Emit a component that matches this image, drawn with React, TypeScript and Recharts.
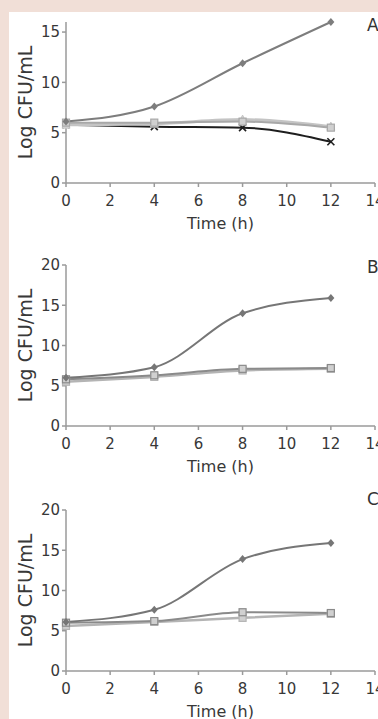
import React from 'react';
import { LineChart, Line, XAxis, YAxis } from 'recharts';

// sampling times (h) and axis ticks
const TIME = [0, 4, 8, 12];
const X_TICKS = [0, 2, 4, 6, 8, 10, 12, 14];
const Y_TICKS_A = [0, 5, 10, 15];
const Y_TICKS_BC = [0, 5, 10, 15, 20];

// panel A (Log CFU/mL)
const A_DIAMOND = [6.1, 7.6, 11.9, 16.0];
const A_SQUARE = [6.0, 6.0, 6.1, 5.5];
const A_TRIANGLE = [5.8, 5.9, 6.3, 5.6];
const A_CROSS = [5.8, 5.6, 5.5, 4.1];

// panel B
const B_DIAMOND = [6.0, 7.3, 14.0, 15.9];
const B_SQUARE = [5.8, 6.3, 7.1, 7.2];
const B_TRIANGLE = [5.5, 6.1, 6.9, 7.1];

// panel C
const C_DIAMOND = [6.1, 7.6, 13.9, 15.9];
const C_SQUARE = [6.0, 6.2, 7.3, 7.2];
const C_TRIANGLE = [5.6, 6.1, 6.6, 7.1];

const FONT = '"DejaVu Sans", Arial, sans-serif';
const AXIS = '#9a9a9a';
const TEXT = '#383838';

type Shape = 'diamond' | 'square' | 'triangle' | 'cross';

const Marker = ({ cx, cy, shape, color }: { cx?: number; cy?: number; shape: Shape; color: string }) => {
  if (cx == null || cy == null) return null;
  const s = 3.5;
  if (shape === 'diamond') {
    return <polygon points={`${cx},${cy - s - 0.5} ${cx + s},${cy} ${cx},${cy + s + 0.5} ${cx - s},${cy}`} fill={color} />;
  }
  if (shape === 'square') {
    return <rect x={cx - s} y={cy - s} width={2 * s} height={2 * s} fill="#d0d0d0" stroke={color} strokeWidth={1.2} />;
  }
  if (shape === 'triangle') {
    return <polygon points={`${cx},${cy - s - 1} ${cx + s + 0.5},${cy + s} ${cx - s - 0.5},${cy + s}`} fill="#d8d8d8" stroke={color} strokeWidth={1} />;
  }
  return (
    <g stroke={color} strokeWidth={1.6}>
      <line x1={cx - s} y1={cy - s} x2={cx + s} y2={cy + s} />
      <line x1={cx - s} y1={cy + s} x2={cx + s} y2={cy - s} />
    </g>
  );
};

const dotOf = (shape: Shape, color: string) => (p: any) => (
  <Marker key={`${shape}-${p.index}`} cx={p.cx} cy={p.cy} shape={shape} color={color} />
);

type Series = { key: string; values: number[]; shape: Shape; color: string; width: number };

const Panel = ({ top, letter, letterTop, series, yMax, yTicks }: { top: number; letter: string; letterTop: number; series: Series[]; yMax: number; yTicks: number[] }) => {
  const data = TIME.map((t, i) => {
    const row: Record<string, number> = { time: t };
    series.forEach((s) => (row[s.key] = s.values[i]));
    return row;
  });
  return (
    <div style={{ position: 'absolute', left: 0, top }}>
      <LineChart width={430} height={240} data={data} margin={{ top: 22, right: 55, left: 0, bottom: 0 }}>
        <XAxis
          dataKey="time"
          type="number"
          domain={[0, 14]}
          ticks={X_TICKS}
          interval={0}
          height={57}
          stroke={AXIS}
          strokeWidth={1.5}
          tickSize={4}
          tickMargin={8}
          tick={{ fill: TEXT, fontSize: 15, fontFamily: FONT }}
          label={{ value: 'Time (h)', position: 'insideBottom', offset: 11, fill: TEXT, fontSize: 16, fontFamily: FONT }}
        />
        <YAxis
          type="number"
          domain={[0, yMax]}
          ticks={yTicks}
          interval={0}
          width={66}
          stroke={AXIS}
          strokeWidth={1.5}
          tickSize={4}
          tickMargin={2}
          tick={{ fill: TEXT, fontSize: 15, fontFamily: FONT }}
          label={{
            value: 'Log CFU/mL',
            angle: -90,
            position: 'insideLeft',
            offset: 25,
            fill: TEXT,
            fontSize: 19,
            fontFamily: FONT,
            style: { textAnchor: 'middle' },
          }}
        />
        {series.map((s) => (
          <Line
            key={s.key}
            dataKey={s.key}
            type="monotone"
            stroke={s.color}
            strokeWidth={s.width}
            dot={dotOf(s.shape, s.color)}
            activeDot={false}
            isAnimationActive={false}
          />
        ))}
      </LineChart>
      <div style={{ position: 'absolute', left: 367, top: letterTop, fontFamily: FONT, fontSize: 17, color: '#333' }}>{letter}</div>
    </div>
  );
};

const App = () => (
  <div style={{ position: 'fixed', left: 0, top: 0, width: 378, height: 719, overflow: 'hidden', background: '#f1dfd7' }}>
    <div style={{ position: 'absolute', left: 9, top: 12, right: 0, bottom: 0, background: '#fff' }} />
    <Panel
      top={0}
      letter="A"
      letterTop={15}
      yMax={16}
      yTicks={Y_TICKS_A}
      series={[
        { key: 'cross', values: A_CROSS, shape: 'cross', color: '#1e1e1e', width: 2 },
        { key: 'triangle', values: A_TRIANGLE, shape: 'triangle', color: '#c4c4c4', width: 3 },
        { key: 'square', values: A_SQUARE, shape: 'square', color: '#a8a8a8', width: 2 },
        { key: 'diamond', values: A_DIAMOND, shape: 'diamond', color: '#7d7d7d', width: 2 },
      ]}
    />
    <Panel
      top={243}
      letter="B"
      letterTop={14}
      yMax={20}
      yTicks={Y_TICKS_BC}
      series={[
        { key: 'triangle', values: B_TRIANGLE, shape: 'square', color: '#b4b4b4', width: 2.5 },
        { key: 'square', values: B_SQUARE, shape: 'square', color: '#8a8a8a', width: 2 },
        { key: 'diamond', values: B_DIAMOND, shape: 'diamond', color: '#767676', width: 2 },
      ]}
    />
    <Panel
      top={488}
      letter="C"
      letterTop={1}
      yMax={20}
      yTicks={Y_TICKS_BC}
      series={[
        { key: 'triangle', values: C_TRIANGLE, shape: 'square', color: '#b4b4b4', width: 2.5 },
        { key: 'square', values: C_SQUARE, shape: 'square', color: '#8a8a8a', width: 2 },
        { key: 'diamond', values: C_DIAMOND, shape: 'diamond', color: '#767676', width: 2 },
      ]}
    />
  </div>
);

export default App;
